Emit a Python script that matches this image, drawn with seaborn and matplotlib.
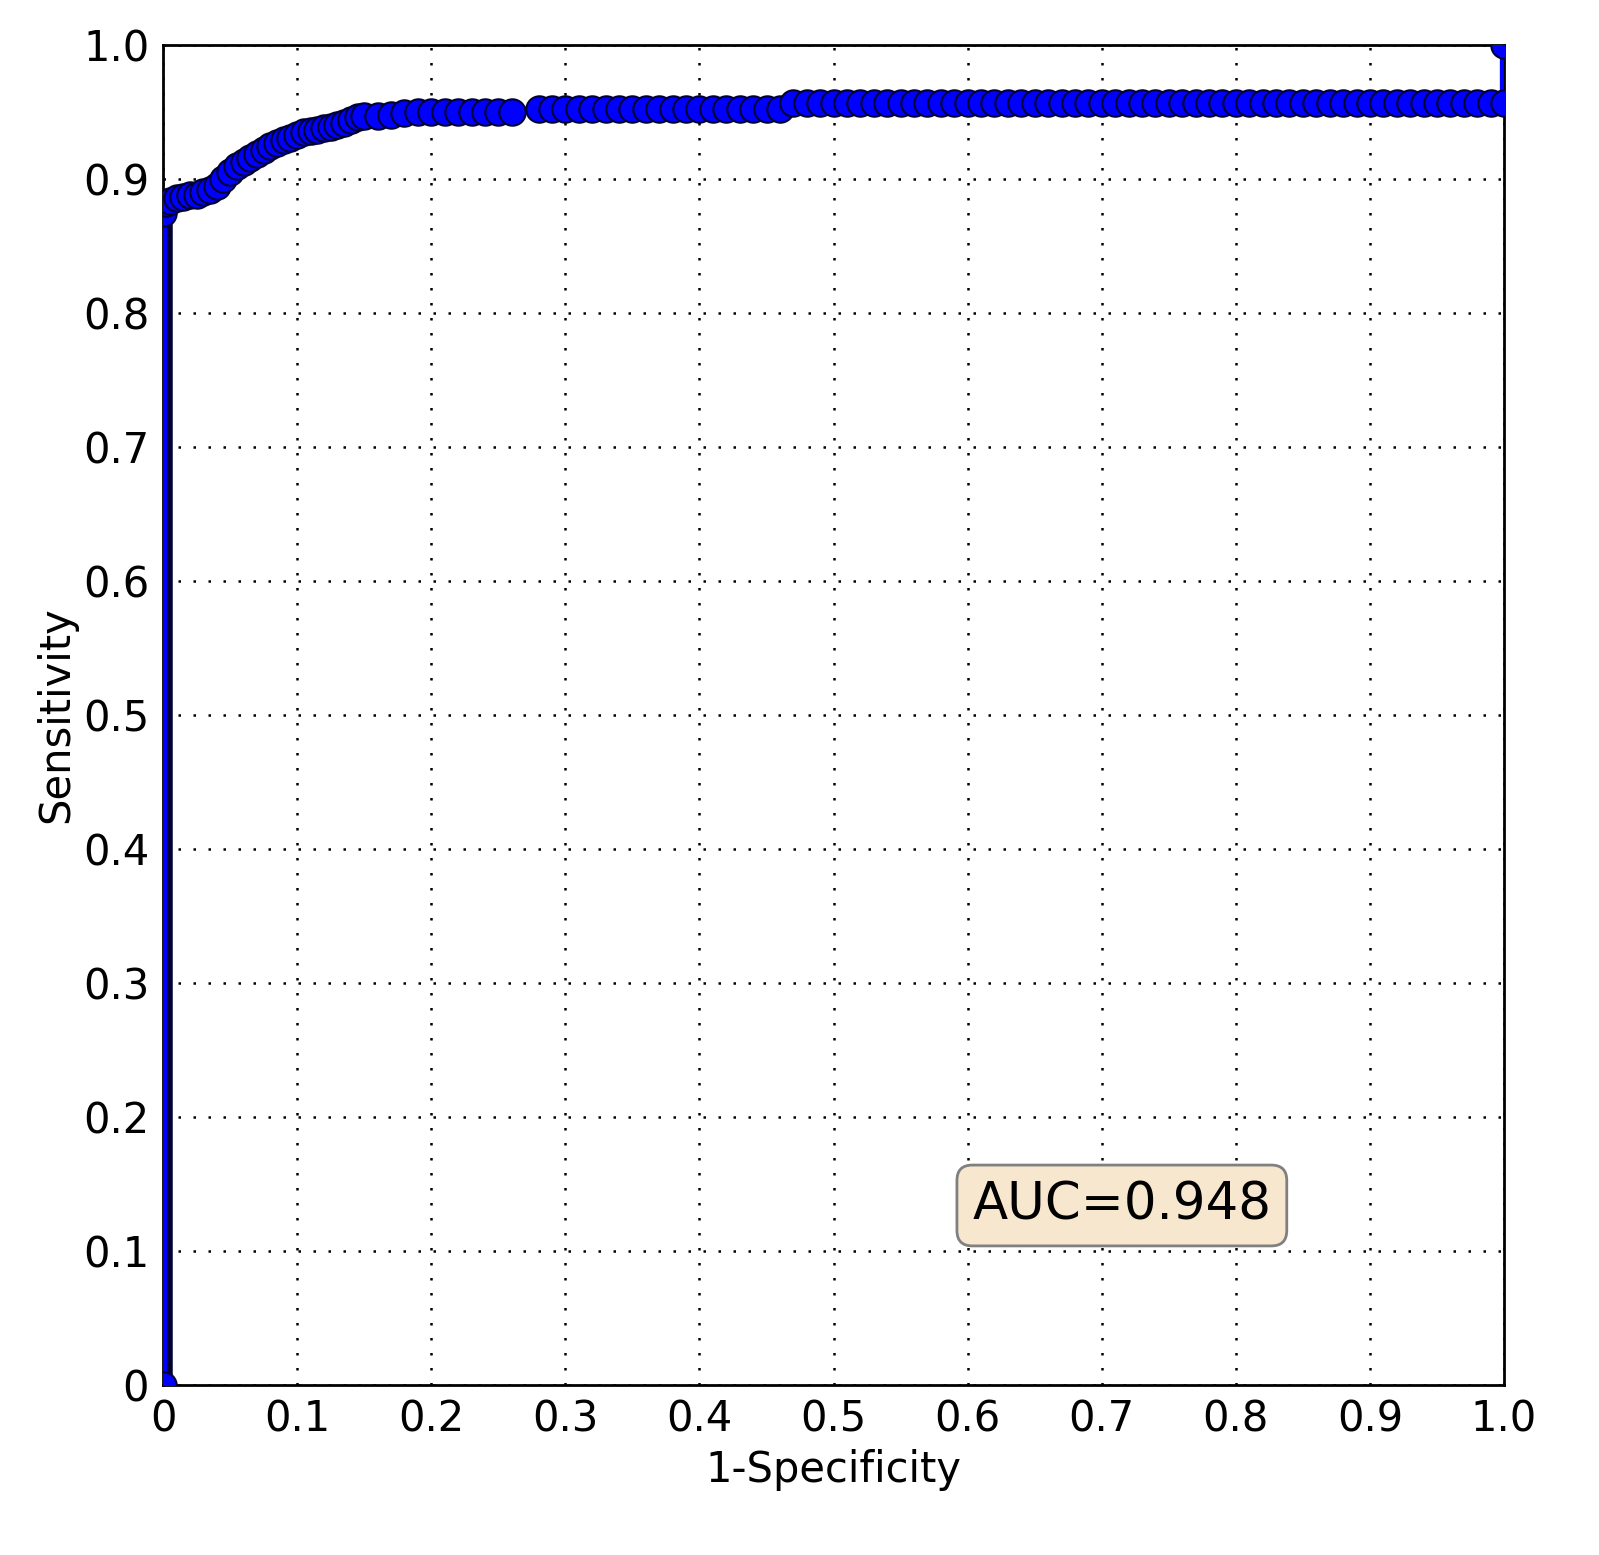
import matplotlib
matplotlib.use("Agg")
import matplotlib.pyplot as plt
import seaborn as sns
import pandas as pd

fpr = [0.0, 0.0,
       0.002, 0.005, 0.01, 0.015, 0.02, 0.025, 0.03, 0.035, 0.04, 0.045, 0.05, 0.055, 0.06, 0.065,
       0.07, 0.075, 0.08, 0.085, 0.09, 0.095, 0.1, 0.105, 0.11, 0.115, 0.12, 0.125, 0.13, 0.135,
       0.14, 0.145, 0.15, 0.16, 0.17, 0.18, 0.19, 0.2, 0.21, 0.22, 0.23, 0.24, 0.25, 0.26,
       0.28, 0.29, 0.30, 0.31, 0.32, 0.33, 0.34, 0.35, 0.36, 0.37, 0.38, 0.39, 0.40, 0.41, 0.42,
       0.43, 0.44, 0.45, 0.46,
       0.47, 0.48, 0.49, 0.50, 0.51, 0.52, 0.53, 0.54, 0.55, 0.56, 0.57, 0.58, 0.59, 0.60, 0.61,
       0.62, 0.63, 0.64, 0.65, 0.66, 0.67, 0.68, 0.69, 0.70, 0.71, 0.72, 0.73, 0.74, 0.75, 0.76,
       0.77, 0.78, 0.79, 0.80, 0.81, 0.82, 0.83, 0.84, 0.85, 0.86, 0.87, 0.88, 0.89, 0.90, 0.91,
       0.92, 0.93, 0.94, 0.95, 0.96, 0.97, 0.98, 0.99, 1.0, 1.0]
tpr = [0.0, 0.875,
       0.882, 0.884, 0.886, 0.887, 0.888, 0.888, 0.89, 0.892, 0.895, 0.9, 0.905, 0.91, 0.913, 0.916,
       0.919, 0.922, 0.925, 0.927, 0.929, 0.931, 0.933, 0.935, 0.936, 0.937, 0.938, 0.939, 0.940, 0.942,
       0.944, 0.946, 0.947, 0.947, 0.948, 0.949, 0.950, 0.950, 0.950, 0.950, 0.950, 0.950, 0.950, 0.950,
       0.952, 0.952, 0.952, 0.952, 0.952, 0.952, 0.952, 0.952, 0.952, 0.952, 0.952, 0.952, 0.952, 0.952, 0.952,
       0.952, 0.952, 0.952, 0.952,
       0.957, 0.957, 0.957, 0.957, 0.957, 0.957, 0.957, 0.957, 0.957, 0.957, 0.957, 0.957, 0.957, 0.957, 0.957,
       0.957, 0.957, 0.957, 0.957, 0.957, 0.957, 0.957, 0.957, 0.957, 0.957, 0.957, 0.957, 0.957, 0.957, 0.957,
       0.957, 0.957, 0.957, 0.957, 0.957, 0.957, 0.957, 0.957, 0.957, 0.957, 0.957, 0.957, 0.957, 0.957, 0.957,
       0.957, 0.957, 0.957, 0.957, 0.957, 0.957, 0.957, 0.957, 0.957, 1.0]
auc_text = "AUC=0.948"
ticks = [0, 0.1, 0.2, 0.3, 0.4, 0.5, 0.6, 0.7, 0.8, 0.9, 1.0]
tick_labels = ["0", "0.1", "0.2", "0.3", "0.4", "0.5", "0.6", "0.7", "0.8", "0.9", "1.0"]

sns.set_style("white")
plt.rcParams['font.family'] = ['DejaVu Sans']
fig = plt.figure(figsize=(15.99, 15.55), dpi=100)
ax = fig.add_axes([0.102, 0.1093, 0.8386, 0.8617])
df = pd.DataFrame({"fpr": fpr, "tpr": tpr})
# dark outline for the vertical segment
ax.plot([0.002, 0.002], [0.0, 0.875], color="#000033", lw=9, zorder=2, solid_capstyle="butt")
sns.lineplot(data=df, x="fpr", y="tpr", sort=False, estimator=None, ax=ax,
             color="blue", lw=6, marker="o", markersize=19,
             markerfacecolor="blue", markeredgecolor="#000033", markeredgewidth=1.5, zorder=3)
ax.set_xlim(0, 1)
ax.set_ylim(0, 1)
ax.set_xticks(ticks)
ax.set_xticklabels(tick_labels)
ax.set_yticks(ticks)
ax.set_yticklabels(tick_labels)
ax.grid(True, linestyle=(0, (1, 5)), color="black", lw=1.8)
ax.tick_params(labelsize=30, length=8, direction="in", pad=10, colors="black")
for s in ax.spines.values():
    s.set_color("black"); s.set_linewidth(2)
ax.set_xlabel("1-Specificity", fontsize=30, labelpad=6, color="black")
ax.set_ylabel("Sensitivity", fontsize=30, labelpad=4, color="black")
ax.text(0.715, 0.134, auc_text, transform=ax.transAxes, fontsize=37, ha="center", va="center",
        color="black",
        bbox=dict(boxstyle="round,pad=0.3", facecolor="#f8e7cf", edgecolor="gray", lw=2))
fig.savefig("out.png", dpi=100)
